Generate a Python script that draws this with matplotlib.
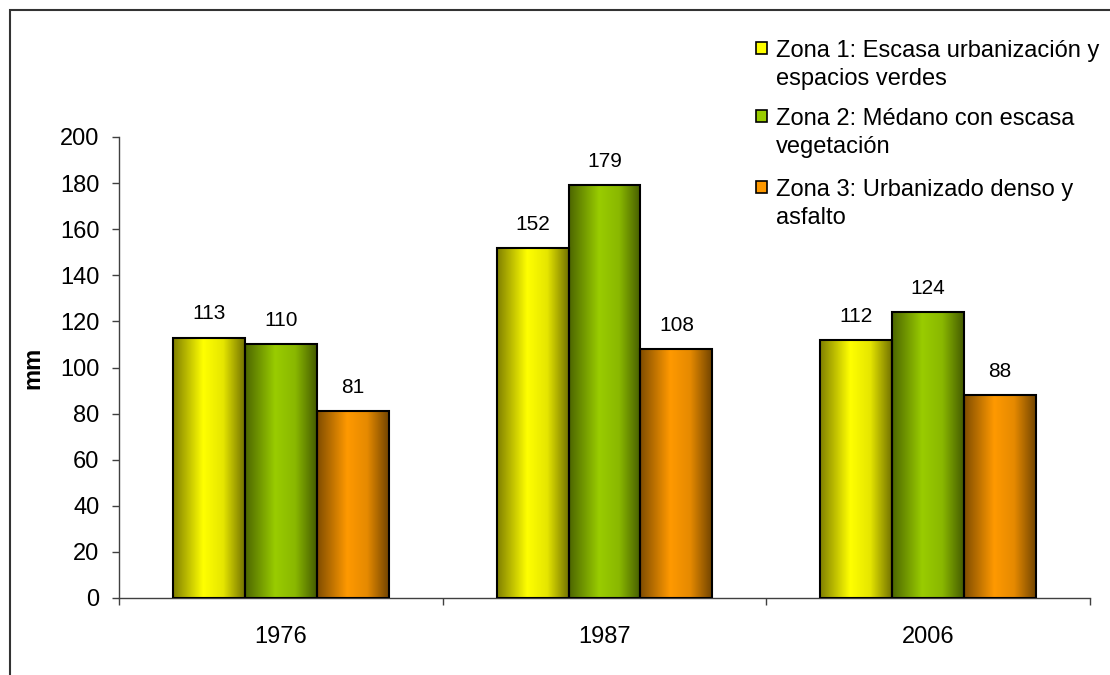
import numpy as np
import matplotlib
matplotlib.use("Agg")
import matplotlib.pyplot as plt
from matplotlib.patches import Rectangle
from matplotlib.colors import to_rgb

plt.rcParams['font.family'] = ['Liberation Sans', 'DejaVu Sans']

years = ["1976", "1987", "2006"]
series_names = [["Zona 1: Escasa urbanización y", "espacios verdes"],
                ["Zona 2: Médano con escasa", "vegetación"],
                ["Zona 3: Urbanizado denso y", "asfalto"]]
zona1 = [113, 152, 112]
zona2 = [110, 179, 124]
zona3 = [81, 108, 88]
series = [zona1, zona2, zona3]
colors = ["#FFFF00", "#99CC00", "#FF9900"]

W, H = 1110, 675
fig = plt.figure(figsize=(W / 100, H / 100), dpi=100)
ax = fig.add_axes([119 / W, 1 - 598 / H, (1090 - 119) / W, (598 - 137) / H])

bw = 1 / 4.5
x = np.arange(len(years))

def gradient(color, n=200):
    base = np.array(to_rgb(color))
    t = np.linspace(0, 1, n)
    f = np.interp(t, [0, 0.42, 0.7, 1], [0.5, 1.0, 0.9, 0.45])
    return (base[None, :] * f[:, None])[None, :, :]

for i, (vals, col) in enumerate(zip(series, colors)):
    offs = (i - 1) * bw
    img = gradient(col)
    for xi, v in zip(x, vals):
        x0 = xi + offs - bw / 2
        ax.imshow(img, extent=[x0, x0 + bw, 0, v], aspect='auto',
                  interpolation='bilinear', zorder=2)
        ax.add_patch(Rectangle((x0, 0), bw, v, facecolor='none',
                               edgecolor='black', linewidth=1.5, zorder=3))
        ax.annotate(str(v), (xi + offs, v), xytext=(0, 13), textcoords='offset points',
                    ha='center', va='baseline', fontsize=15, color='black')

ax.set_xlim(-0.5, 2.5)
ax.set_ylim(0, 200)
ax.set_yticks(np.arange(0, 201, 20))
ax.set_xticks(x)
ax.set_xticklabels(years, fontsize=17)
ax.set_xticks([-0.5, 0.5, 1.5, 2.5], minor=True)
ax.tick_params(axis='x', which='major', length=0, pad=20)
ax.tick_params(axis='x', which='minor', length=5, width=1, color='#404040', direction='out')
ax.tick_params(axis='y', length=5, width=1, color='#404040', labelsize=17, pad=9)
for s in ['top', 'right']:
    ax.spines[s].set_visible(False)
for s in ['left', 'bottom']:
    ax.spines[s].set_color('#404040')
    ax.spines[s].set_linewidth(1)
ax.patch.set_alpha(0)
fig.text(33 / W, 1 - 368 / H, "mm", fontsize=17, fontweight='bold', rotation=90,
         ha='center', va='center')

# outer frame
fig.add_artist(Rectangle((10 / W, -0.1), 1.2, 1 - 10 / H + 0.1,
                         transform=fig.transFigure, facecolor='none',
                         edgecolor='#333333', linewidth=1.5))

# legend
baselines = [57, 125, 196]
for lines, col, yb in zip(series_names, colors, baselines):
    fig.add_artist(Rectangle((756 / W, 1 - (yb - 3) / H), 11 / W, 12 / H,
                             transform=fig.transFigure, facecolor=col,
                             edgecolor='black', linewidth=1.2))
    for k, line in enumerate(lines):
        fig.text(776 / W, 1 - (yb + 28 * k) / H, line, fontsize=17,
                 va='baseline', ha='left')

fig.savefig("out.png", dpi=100)
